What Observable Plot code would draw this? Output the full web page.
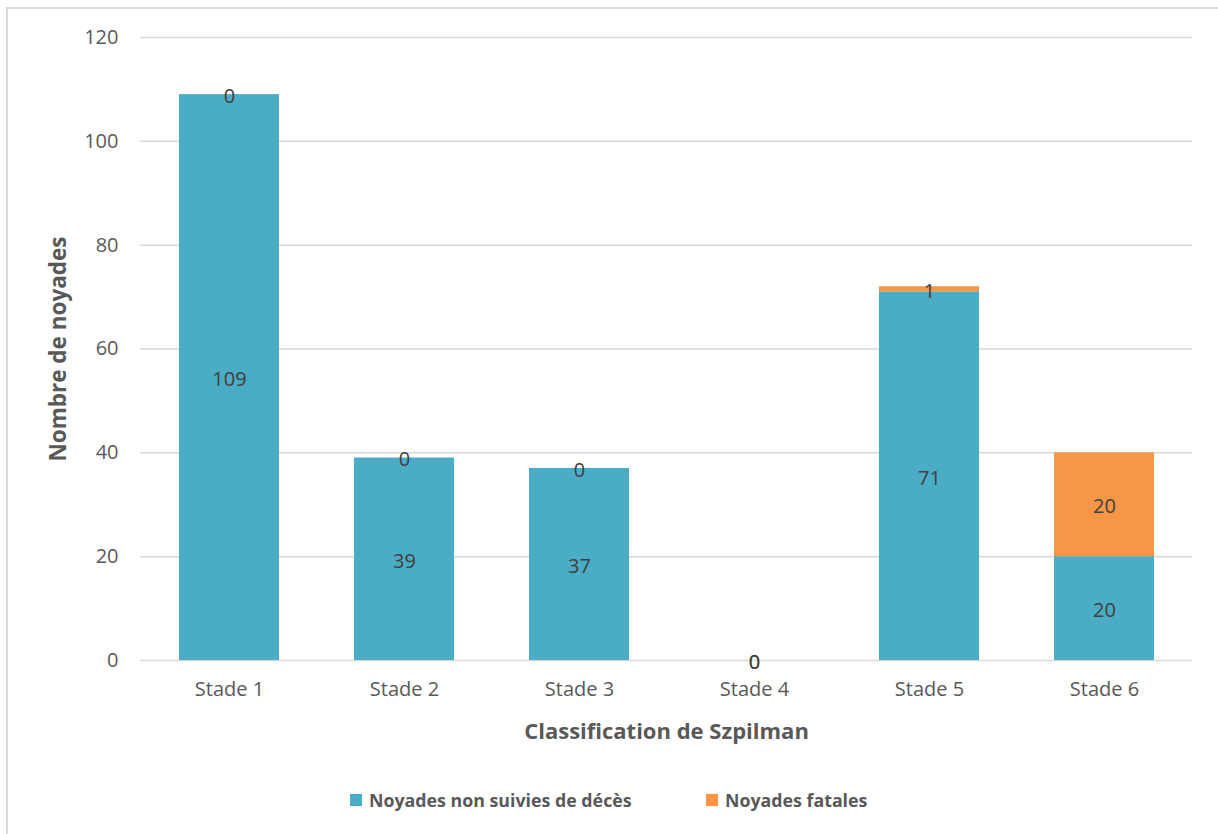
<!DOCTYPE html>
<html>
<head>
<meta charset="utf-8">
<script src="https://cdn.jsdelivr.net/npm/d3@7"></script>
<script src="https://cdn.jsdelivr.net/npm/@observablehq/plot@0.6"></script>
<style>
  html, body { margin: 0; padding: 0; background: #fff; width: 1218px; height: 834px; overflow: hidden; }
  #frame { position: absolute; left: 6px; top: 7px; width: 1230px; height: 850px; border: 2px solid #d9d9d9; box-sizing: border-box; }
  #chart { position: absolute; left: 0; top: 0; }
  .item { position: absolute; top: 788px; display: flex; align-items: center; font-family: "Open Sans", sans-serif; font-weight: bold; font-size: 17.8px; color: #595959; white-space: nowrap; }
  .sw { display: inline-block; width: 12px; height: 12px; margin-right: 7px; }
</style>
</head>
<body>
<div id="frame"></div>
<div id="chart"></div>
<div id="legend"></div>
<script>
const categories = ["Stade 1", "Stade 2", "Stade 3", "Stade 4", "Stade 5", "Stade 6"];
const series = ["Noyades non suivies de décès", "Noyades fatales"];
const nonFatal = [109, 39, 37, 0, 71, 20];
const fatal = [0, 0, 0, 0, 1, 20];
const colors = ["#4BACC6", "#F79646"];
const yTicks = [0, 20, 40, 60, 80, 100, 120];

const data = [];
categories.forEach((c, i) => {
  data.push({stade: c, serie: series[0], value: nonFatal[i]});
  data.push({stade: c, serie: series[1], value: fatal[i]});
});

const plot = Plot.plot({
  width: 1218,
  height: 760,
  marginLeft: 140,
  marginRight: 26,
  marginTop: 37,
  marginBottom: 100,
  style: {fontFamily: "'Open Sans', sans-serif", fontSize: "20px", color: "#595959", background: "transparent"},
  x: {domain: categories, paddingInner: 0.43, paddingOuter: 0.215, label: null, tickSize: 0, tickPadding: 21},
  y: {domain: [0, 120], ticks: yTicks, label: null, tickSize: 0, tickPadding: 22},
  color: {domain: series, range: colors},
  marks: [
    Plot.ruleY(yTicks, {stroke: "#d9d9d9", strokeWidth: 1.5}),
    Plot.barY(data, Plot.stackY({x: "stade", y: "value", z: "serie", fill: "serie", order: series})),
    Plot.text(data, Plot.stackY({x: "stade", y: "value", z: "serie", order: series, text: d => String(d.value), fill: "#404040", fontSize: 20, dy: 2})),
    Plot.text(["Nombre de noyades"], {frameAnchor: "left", dx: -82, rotate: -90, textAnchor: "middle", fontWeight: "bold", fontSize: 22.5, fill: "#595959"}),
    Plot.text(["Classification de Szpilman"], {frameAnchor: "bottom", dy: 78, fontWeight: "bold", fontSize: 22, fill: "#595959"})
  ]
});
document.getElementById("chart").appendChild(plot);

const legend = document.getElementById("legend");
const legendLeft = [350, 706];
series.forEach((s, i) => {
  const item = document.createElement("div");
  item.className = "item";
  item.style.left = legendLeft[i] + "px";
  const sw = document.createElement("span");
  sw.className = "sw";
  sw.style.background = colors[i];
  item.appendChild(sw);
  const t = document.createElement("span");
  t.textContent = s;
  item.appendChild(t);
  legend.appendChild(item);
});
</script>
</body>
</html>
